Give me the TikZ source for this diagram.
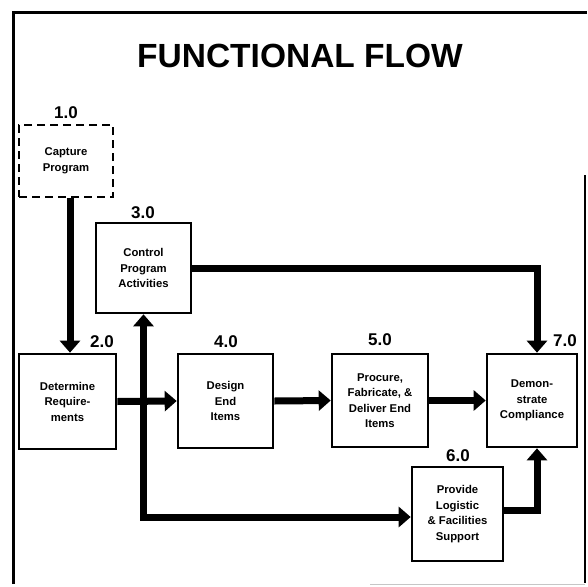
\documentclass[tikz,border=0pt]{standalone}
\usepackage{fontspec}
\setmainfont{Liberation Sans}
\usetikzlibrary{arrows.meta}
\begin{document}
\begin{tikzpicture}[x=1pt,y=-1pt,
  box/.style={draw, line width=2.6pt, inner sep=0pt, align=center,
    font=\bfseries\fontsize{11.3}{15.5}\selectfont},
  num/.style={font=\bfseries\fontsize{17}{17}\selectfont, inner sep=0pt, anchor=base},
  flow/.style={line width=7pt, -{Triangle[width=20pt,length=12pt]}},
  bothflow/.style={line width=7pt, {Triangle[width=20pt,length=12pt]}-{Triangle[width=20pt,length=12pt]}},
]
\useasboundingbox (0,0) rectangle (588,586);
% frame
\draw[line width=3pt] (13,584) -- (13,13) -- (587,13);
\draw[line width=1.2pt] (585,175) -- (585,583);
\draw[gray!45, line width=1pt] (370,584) -- (585,584);
% title
\node[font=\bfseries\fontsize{33.5}{33.5}\selectfont, inner sep=0pt] (title) at (300,56) {FUNCTIONAL FLOW};
% boxes
\node[box, minimum width=94pt, minimum height=72pt, dash pattern=on 8pt off 5pt] (b1) at (66,161) {Capture\\Program};
\node[box, minimum width=95pt, minimum height=90pt] (b3) at (143.5,268) {Control\\Program\\Activities};
\node[box, minimum width=97pt, minimum height=95pt] (b2) at (67.5,401.5) {Determine\\Require-\\ments};
\node[box, minimum width=95pt, minimum height=94pt] (b4) at (225.5,401) {Design\\End\\Items};
\node[box, minimum width=96pt, minimum height=93pt] (b5) at (380,400.5) {Procure,\\Fabricate, \&\\Deliver End\\Items};
\node[box, minimum width=90pt, minimum height=93pt] (b7) at (532,400.5) {Demon-\\strate\\Compliance};
\node[box, minimum width=91pt, minimum height=94pt] (b6) at (457.5,514) {Provide\\Logistic\\\& Facilities\\Support};
% numbers
\node[num] (n1) at (66,118) {1.0};
\node[num] (n3) at (143,218) {3.0};
\node[num] (n2) at (102,347) {2.0};
\node[num] (n4) at (226,347) {4.0};
\node[num] (n5) at (380,345) {5.0};
\node[num] (n7) at (565,346) {7.0};
\node[num] (n6) at (458,461) {6.0};
% connectors
\draw[flow] ([xshift=4pt]b1.south) -- ([xshift=4pt]b1.south |- b2.north);
\draw[flow] (b2.east) -- (b4.west);
\draw[flow] (b4.east) -- (b5.west);
\draw[flow] (b5.east) -- (b5.east -| b7.west);
\draw[flow] (b3.east) -| ([xshift=5pt]b7.north);
\draw[flow] ([yshift=4pt]b6.east) -| ([xshift=5pt]b7.south);
\draw[bothflow] (b3.south) |- ([yshift=-3pt]b6.west);
\end{tikzpicture}
\end{document}
